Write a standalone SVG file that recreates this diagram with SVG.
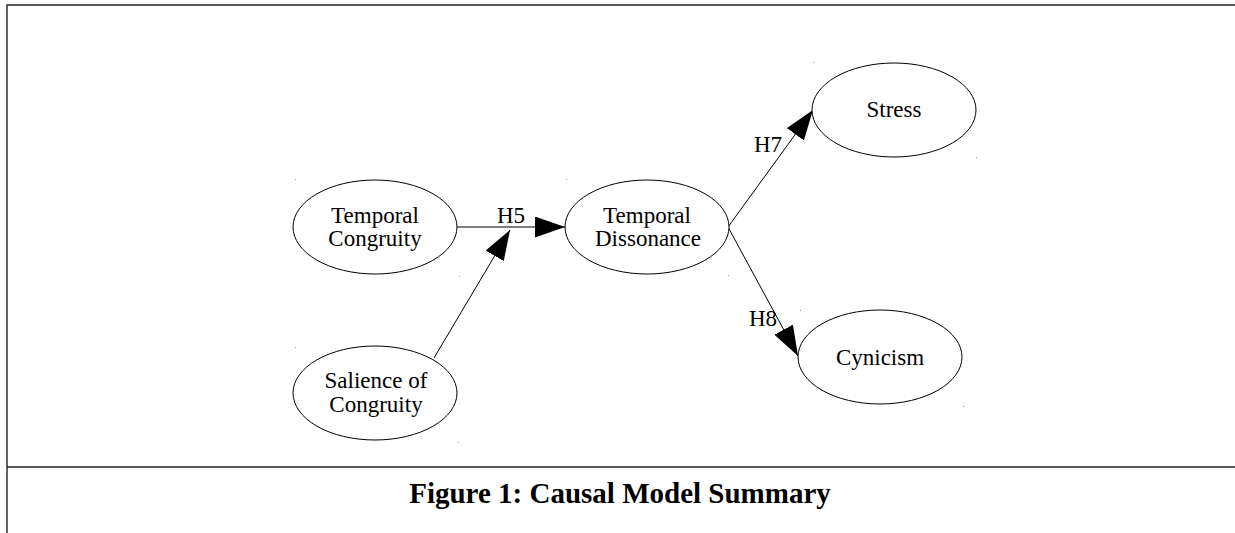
<svg xmlns="http://www.w3.org/2000/svg" width="1235" height="533" viewBox="0 0 1235 533">
<style>
.frame{stroke:#222;stroke-width:1.4;fill:none}
.node{fill:#fff;stroke:#000;stroke-width:1}
.lbl{font-family:"Liberation Serif","Times New Roman",serif;font-size:23px;fill:#000;text-anchor:middle}
.edge{stroke:#000;stroke-width:1;fill:none;marker-end:url(#ah)}
.dot{fill:#999}
.cap{font-family:"Liberation Serif","Times New Roman",serif;font-size:29px;font-weight:bold;fill:#000;text-anchor:middle}
</style>
<defs>
<marker id="ah" markerUnits="userSpaceOnUse" markerWidth="30" markerHeight="21" refX="30" refY="10.5" orient="auto">
<path d="M0,0 L30,10.5 L0,21 z" fill="#000"/>
</marker>
</defs>
<rect width="1235" height="533" fill="#fff"/>
<path class="frame" d="M7,533 V5 H1235 M7,467 H1235"/>
<g id="dots">
<rect class="dot" x="295" y="179" width="1" height="1"/>
<rect class="dot" x="566" y="179" width="1" height="1"/>
<rect class="dot" x="459" y="276" width="1" height="1"/>
<rect class="dot" x="728" y="275" width="1" height="1"/>
<rect class="dot" x="295" y="347" width="1" height="1"/>
<rect class="dot" x="458" y="442" width="1" height="1"/>
<rect class="dot" x="813" y="62" width="1" height="1"/>
<rect class="dot" x="976" y="157" width="1" height="1"/>
<rect class="dot" x="800" y="310" width="1" height="1"/>
<rect class="dot" x="963" y="406" width="1" height="1"/>
</g>
<g id="connectors">
<line class="edge" x1="457" y1="227" x2="565" y2="227"/>
<line class="edge" x1="434" y1="358" x2="510" y2="230"/>
<line class="edge" x1="728" y1="227" x2="813" y2="110"/>
<line class="edge" x1="728" y1="227" x2="798" y2="356"/>
<text class="lbl" x="511" y="223">H5</text>
<text class="lbl" x="768" y="152">H7</text>
<text class="lbl" x="763" y="326">H8</text>
</g>
<g id="temporal-congruity">
<ellipse class="node" cx="375" cy="227" rx="82" ry="47"/>
<text class="lbl" x="375" y="223">Temporal</text>
<text class="lbl" x="375" y="246">Congruity</text>
</g>
<g id="salience-of-congruity">
<ellipse class="node" cx="375" cy="393" rx="82" ry="47"/>
<text class="lbl" x="376" y="388">Salience of</text>
<text class="lbl" x="376" y="412">Congruity</text>
</g>
<g id="temporal-dissonance">
<ellipse class="node" cx="647" cy="227" rx="82" ry="47"/>
<text class="lbl" x="647" y="223">Temporal</text>
<text class="lbl" x="648" y="246">Dissonance</text>
</g>
<g id="stress">
<ellipse class="node" cx="894" cy="110" rx="82" ry="47"/>
<text class="lbl" x="894" y="117">Stress</text>
</g>
<g id="cynicism">
<ellipse class="node" cx="880" cy="357" rx="82" ry="47"/>
<text class="lbl" x="880" y="365">Cynicism</text>
</g>
<text class="cap" x="620" y="503">Figure 1: Causal Model Summary</text>
</svg>
